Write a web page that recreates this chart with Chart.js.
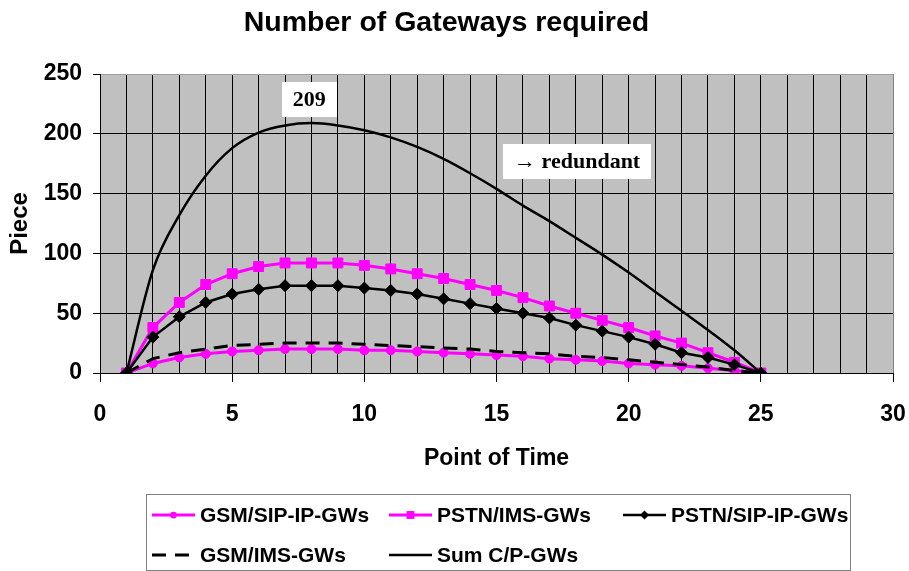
<!DOCTYPE html>
<html>
<head>
<meta charset="utf-8">
<title>Number of Gateways required</title>
<script src="https://cdn.jsdelivr.net/npm/chart.js@4.4.0/dist/chart.umd.min.js"></script>
<style>
  html, body { margin: 0; padding: 0; background: #ffffff; }
  #wrap { width: 909px; height: 571px; }
</style>
</head>
<body>
<div id="wrap"><canvas id="gwChart" width="909" height="571"></canvas></div>
<script>
// point of time 1..25
const timePoints = [1, 2, 3, 4, 5, 6, 7, 8, 9, 10, 11, 12, 13, 14, 15, 16, 17, 18, 19, 20, 21, 22, 23, 24, 25];

const gsmSipIp  = [0, 8, 13, 16, 18, 19, 20, 20, 20, 19, 19, 18, 17, 16, 15, 14, 12, 11, 10, 8, 7, 6, 4, 2, 0];
const pstnIms   = [0, 38, 59, 74, 83, 89, 92, 92, 92, 90, 87, 83, 79, 74, 69, 63, 56, 50, 44, 38, 31, 25, 17, 9, 0];
const pstnSipIp = [0, 30, 47, 59, 66, 70, 73, 73, 73, 71, 69, 66, 62, 58, 54, 50, 46, 40, 35, 30, 24, 17, 13, 7, 0];
const gsmIms    = [0, 12, 17, 20, 23, 24, 25, 25, 25, 24, 23, 22, 21, 20, 18, 17, 16, 14, 13, 11, 9, 7, 5, 2, 0];
const sumCP     = [0, 86, 132, 165, 188, 201, 207, 209, 207, 203, 197, 189, 179, 167, 154, 140, 127, 113, 99, 84, 68, 52, 36, 19, 0];

const seriesNames = ['GSM/SIP-IP-GWs', 'PSTN/IMS-GWs', 'PSTN/SIP-IP-GWs', 'GSM/IMS-GWs', 'Sum C/P-GWs'];

const xTicks = [0, 5, 10, 15, 20, 25, 30];
const yTicks = [0, 50, 100, 150, 200, 250];

// text boxes placed in data units
const notes = [
  { text: '209', x: 7.92, y: 229 },
  { text: '\u2192 redundant', x: 18.05, y: 177 }
];

const SANS = '"Liberation Sans", Arial, Helvetica, sans-serif';
const SERIF = '"Liberation Serif", "Times New Roman", serif';
const MAGENTA = '#ff00ff';

function toXY(values) {
  return values.map((v, i) => ({ x: timePoints[i], y: v }));
}

document.addEventListener('DOMContentLoaded', function() {
  const ctx = document.getElementById('gwChart').getContext('2d');

  // gray plot background
  const plotBackground = {
    id: 'plotBackground',
    beforeDraw(chart) {
      const a = chart.chartArea;
      const c = chart.ctx;
      c.save();
      c.fillStyle = '#c0c0c0';
      c.fillRect(a.left, a.top, a.right - a.left, a.bottom - a.top);
      c.restore();
    }
  };

  // white boxes with bold serif text
  const noteBoxes = {
    id: 'noteBoxes',
    afterDatasetsDraw(chart) {
      const c = chart.ctx;
      const xs = chart.scales.x, ys = chart.scales.y;
      c.save();
      c.font = 'bold 22px ' + SERIF;
      c.textAlign = 'center';
      c.textBaseline = 'middle';
      notes.forEach(n => {
        const px = xs.getPixelForValue(n.x);
        const py = ys.getPixelForValue(n.y);
        const w = c.measureText(n.text).width + 22;
        const h = 35;
        c.fillStyle = '#ffffff';
        c.fillRect(Math.round(px - w / 2), Math.round(py - h / 2), Math.round(w), h);
        c.fillStyle = '#000000';
        c.fillText(n.text, px, py + 1);
      });
      c.restore();
    }
  };

  // boxed legend under the axis, three columns
  const boxLegend = {
    id: 'boxLegend',
    afterDraw(chart) {
      const c = chart.ctx;
      const box = { left: 146.5, top: 494.5, right: 850.5, bottom: 570.5 };
      const cols = [152, 389, 623];
      const rows = [515, 555];
      c.save();
      c.strokeStyle = '#808080';
      c.lineWidth = 1;
      c.strokeRect(box.left, box.top, box.right - box.left, box.bottom - box.top);
      c.font = 'bold 21px ' + SANS;
      c.textBaseline = 'middle';
      c.textAlign = 'left';
      chart.data.datasets.forEach((ds, i) => {
        const x = cols[i % 3];
        const y = rows[Math.floor(i / 3)];
        c.strokeStyle = ds.borderColor;
        c.lineWidth = ds.borderWidth;
        c.setLineDash(ds.borderDash || []);
        c.beginPath();
        c.moveTo(x, y);
        c.lineTo(x + 43, y);
        c.stroke();
        c.setLineDash([]);
        const mx = x + 21.5;
        const r = ds.pointRadius * 0.75;
        c.fillStyle = ds.pointBackgroundColor || ds.borderColor;
        if (ds.pointStyle === 'circle' && ds.pointRadius > 0) {
          c.beginPath();
          c.arc(mx, y, r, 0, Math.PI * 2);
          c.fill();
        } else if (ds.pointStyle === 'rect' && ds.pointRadius > 0) {
          c.fillRect(mx - r * 0.75, y - r * 0.75, r * 1.5, r * 1.5);
        } else if (ds.pointStyle === 'rectRot' && ds.pointRadius > 0) {
          c.beginPath();
          c.moveTo(mx, y - r);
          c.lineTo(mx + r, y);
          c.lineTo(mx, y + r);
          c.lineTo(mx - r, y);
          c.closePath();
          c.fill();
        }
        c.fillStyle = '#000000';
        c.fillText(ds.label, x + 48, y + 1);
      });
      c.restore();
    }
  };

  new Chart(ctx, {
    type: 'line',
    data: {
      datasets: [
        {
          label: seriesNames[0],
          data: toXY(gsmSipIp),
          borderColor: MAGENTA,
          backgroundColor: MAGENTA,
          pointBackgroundColor: MAGENTA,
          pointBorderColor: MAGENTA,
          borderWidth: 3,
          pointStyle: 'circle',
          pointRadius: 4.5,
          pointBorderWidth: 1,
          order: 5
        },
        {
          label: seriesNames[1],
          data: toXY(pstnIms),
          borderColor: MAGENTA,
          backgroundColor: MAGENTA,
          pointBackgroundColor: MAGENTA,
          pointBorderColor: MAGENTA,
          borderWidth: 3,
          pointStyle: 'rect',
          pointRadius: 7,
          pointBorderWidth: 1,
          order: 4
        },
        {
          label: seriesNames[2],
          data: toXY(pstnSipIp),
          borderColor: '#000000',
          backgroundColor: '#000000',
          pointBackgroundColor: '#000000',
          pointBorderColor: '#000000',
          borderWidth: 2.5,
          pointStyle: 'rectRot',
          pointRadius: 6,
          pointBorderWidth: 1,
          order: 3
        },
        {
          label: seriesNames[3],
          data: toXY(gsmIms),
          borderColor: '#000000',
          backgroundColor: '#000000',
          borderWidth: 3,
          borderDash: [14, 9],
          pointStyle: false,
          pointRadius: 0,
          order: 2
        },
        {
          label: seriesNames[4],
          data: toXY(sumCP),
          borderColor: '#000000',
          backgroundColor: '#000000',
          borderWidth: 2.5,
          pointStyle: false,
          pointRadius: 0,
          cubicInterpolationMode: 'monotone',
          order: 1
        }
      ]
    },
    options: {
      responsive: false,
      animation: false,
      layout: { padding: { left: 0, right: 16, top: 0, bottom: 98 } },
      plugins: {
        legend: { display: false },
        tooltip: { enabled: false },
        title: {
          display: true,
          text: 'Number of Gateways required',
          color: '#000000',
          font: { family: SANS, size: 28.5, weight: 'bold' },
          padding: { top: 6, bottom: 33.8 }
        }
      },
      scales: {
        x: {
          type: 'linear',
          min: 0,
          max: 30,
          afterFit(scale) {
            scale.height = 100;
            scale.paddingLeft = 0;
            scale.paddingRight = 0;
          },
          afterBuildTicks(scale) {
            const t = [];
            for (let v = 0; v <= 30; v++) t.push({ value: v });
            scale.ticks = t;
          },
          ticks: {
            autoSkip: false,
            maxRotation: 0,
            color: '#000000',
            padding: 19,
            font: { family: SANS, size: 23, weight: 'bold' },
            callback: v => (xTicks.includes(v) ? String(v) : '')
          },
          grid: {
            color: c => (c.tick && c.tick.value === 30 ? '#808080' : '#000000'),
            lineWidth: 1,
            tickLength: 9,
            tickColor: c => (c.tick && xTicks.includes(c.tick.value) ? '#000000' : 'rgba(0,0,0,0)')
          },
          border: { color: '#000000', width: 1 },
          title: {
            display: true,
            text: 'Point of Time',
            color: '#000000',
            font: { family: SANS, size: 23, weight: 'bold' },
            padding: { top: 1, bottom: 1 }
          }
        },
        y: {
          min: 0,
          max: 250,
          afterFit(scale) { scale.width = 100; },
          afterBuildTicks(scale) {
            scale.ticks = yTicks.map(v => ({ value: v }));
          },
          ticks: {
            color: '#000000',
            padding: 11,
            font: { family: SANS, size: 23, weight: 'bold' }
          },
          grid: {
            color: c => (c.tick && c.tick.value === 250 ? '#a0a0a0' : '#000000'),
            lineWidth: 1,
            tickLength: 7,
            tickColor: '#000000'
          },
          border: { color: '#000000', width: 1 },
          title: {
            display: true,
            text: 'Piece',
            color: '#000000',
            font: { family: SANS, size: 24, weight: 'bold' },
            padding: { top: 6, bottom: 6 }
          }
        }
      }
    },
    plugins: [plotBackground, noteBoxes, boxLegend]
  });
});
</script>
</body>
</html>
